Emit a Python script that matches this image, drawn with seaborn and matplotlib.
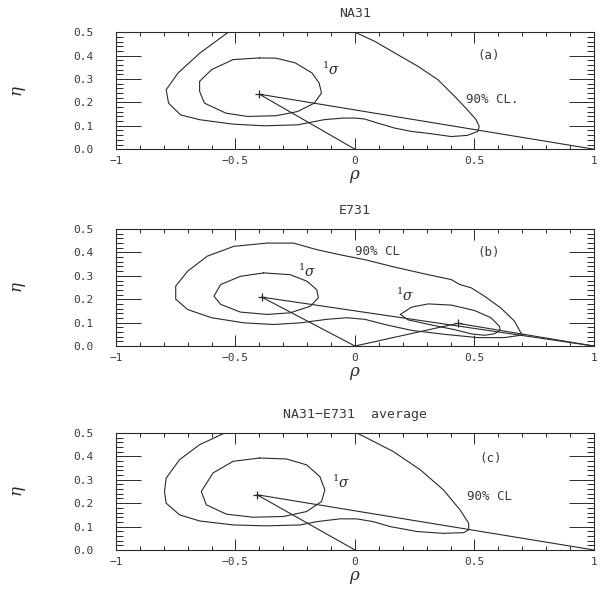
import seaborn as sns
import matplotlib
matplotlib.use("Agg")
import matplotlib.pyplot as plt
from matplotlib.ticker import MultipleLocator, FixedLocator

sns.set_style("ticks")
plt.rcParams['font.family'] = ['DejaVu Sans Mono', 'DejaVu Sans']
plt.rcParams['mathtext.fontset'] = 'dejavuserif'

# ---- data (rho, eta) ----
# (a) NA31
na31_apex = (-0.40, 0.235)
na31_cl90_x = [-0.53, -0.65, -0.74, -0.79, -0.78, -0.73, -0.65, -0.51, -0.38, -0.24, -0.13, -0.05, 0.0,
               0.04, 0.097, 0.167, 0.236, 0.32, 0.403, 0.47, 0.514, 0.52, 0.507, 0.47, 0.417, 0.347,
               0.264, 0.167, 0.083, 0.0]
na31_cl90_y = [0.5, 0.41, 0.326, 0.254, 0.197, 0.147, 0.126, 0.107, 0.10, 0.104, 0.126, 0.133, 0.133,
               0.129, 0.111, 0.09, 0.076, 0.066, 0.054, 0.059, 0.076, 0.097, 0.126, 0.169, 0.226, 0.297,
               0.354, 0.411, 0.461, 0.5]
na31_sig1_x = [-0.40, -0.51, -0.60, -0.65, -0.65, -0.63, -0.54, -0.45, -0.33, -0.24, -0.17, -0.14,
               -0.15, -0.18, -0.25, -0.33, -0.40]
na31_sig1_y = [0.39, 0.383, 0.34, 0.29, 0.247, 0.197, 0.154, 0.14, 0.143, 0.161, 0.197, 0.24,
               0.283, 0.326, 0.369, 0.389, 0.39]

# (b) E731
e731_apex = (-0.39, 0.209)
e731_apex2 = (0.43, 0.097)
e731_cl90_x = [0.70, 0.694, 0.667, 0.61, 0.542, 0.486, 0.438, 0.403, 0.306, 0.167, 0.042, -0.062,
               -0.16, -0.257, -0.368, -0.507, -0.618, -0.70, -0.75, -0.75, -0.70, -0.60, -0.465,
               -0.34, -0.229, -0.119, -0.035, 0.042, 0.125, 0.236, 0.375, 0.514, 0.625, 0.70]
e731_cl90_y = [0.047, 0.057, 0.107, 0.163, 0.213, 0.249, 0.263, 0.284, 0.305, 0.337, 0.369, 0.39,
               0.412, 0.44, 0.44, 0.426, 0.384, 0.32, 0.256, 0.20, 0.156, 0.121, 0.099,
               0.092, 0.099, 0.114, 0.121, 0.114, 0.092, 0.067, 0.05, 0.036, 0.036, 0.047]
e731_sig1_x = [-0.382, -0.479, -0.562, -0.59, -0.562, -0.479, -0.368, -0.271, -0.187, -0.153,
               -0.16, -0.201, -0.271, -0.382]
e731_sig1_y = [0.3125, 0.298, 0.263, 0.213, 0.178, 0.145, 0.135, 0.142, 0.17, 0.206,
               0.241, 0.277, 0.305, 0.3125]
e731_sig1b_x = [0.19, 0.236, 0.306, 0.403, 0.50, 0.569, 0.604, 0.608, 0.583, 0.542, 0.486,
                0.417, 0.32, 0.222, 0.19]
e731_sig1b_y = [0.135, 0.166, 0.18, 0.175, 0.152, 0.121, 0.085, 0.067, 0.052, 0.046, 0.052,
                0.07, 0.09, 0.112, 0.135]

# (c) NA31-E731 average
avg_apex = (-0.41, 0.236)
avg_cl90_x = [-0.545, -0.65, -0.734, -0.79, -0.797, -0.79, -0.734, -0.65, -0.51, -0.37, -0.23,
              -0.16, -0.063, 0.007, 0.077, 0.147, 0.259, 0.37, 0.455, 0.476, 0.476, 0.44, 0.37,
              0.273, 0.16, 0.049, 0.007]
avg_cl90_y = [0.5, 0.45, 0.386, 0.307, 0.25, 0.20, 0.15, 0.124, 0.107, 0.103, 0.107,
              0.121, 0.133, 0.133, 0.121, 0.10, 0.079, 0.071, 0.074, 0.086, 0.114, 0.171, 0.257,
              0.343, 0.421, 0.479, 0.5]
avg_sig1_x = [-0.40, -0.51, -0.594, -0.643, -0.622, -0.538, -0.427, -0.30, -0.203, -0.14,
              -0.126, -0.147, -0.203, -0.287, -0.40]
avg_sig1_y = [0.393, 0.379, 0.329, 0.25, 0.193, 0.153, 0.14, 0.143, 0.164, 0.207,
              0.257, 0.314, 0.364, 0.389, 0.393]

titles = ["NA31", "E731", "NA31\u2212E731  average"]
tags = ["(a)", "(b)", "(c)"]
x_ticks = [-1, -0.5, 0, 0.5, 1]
x_ticklabels = ["\u22121", "\u22120.5", "0", "0.5", "1"]
y_ticks = [0.0, 0.1, 0.2, 0.3, 0.4, 0.5]
y_ticklabels = ["0.0", "0.1", "0.2", "0.3", "0.4", "0.5"]

ink = "#2a2a2a"
txt = "#3a3a3a"
lw = 0.8

fig = plt.figure(figsize=(6.05, 5.92), dpi=100)
bottoms = [0.748, 0.4155, 0.071]
axes = [fig.add_axes([0.1917, b, 0.790, 0.1976]) for b in bottoms]


def curve(ax, xs, ys, **kw):
    sns.lineplot(x=xs, y=ys, sort=False, estimator=None, ax=ax, color=ink, lw=lw, **kw)


def triangle(ax, apex):
    curve(ax, [0, apex[0], 1], [0, apex[1], 0])
    sns.scatterplot(x=[apex[0]], y=[apex[1]], marker="+", s=40, color=ink, linewidth=0.9, ax=ax)


for ax, title in zip(axes, titles):
    ax.set_xlim(-1, 1)
    ax.set_ylim(0, 0.5)
    ax.xaxis.set_major_locator(FixedLocator(x_ticks))
    ax.set_xticklabels(x_ticklabels)
    ax.xaxis.set_minor_locator(MultipleLocator(0.1))
    ax.yaxis.set_major_locator(FixedLocator(y_ticks))
    ax.set_yticklabels(y_ticklabels)
    ax.yaxis.set_minor_locator(MultipleLocator(0.02))
    ax.tick_params(which="both", direction="in", top=True, right=True, colors=ink,
                   labelcolor=txt, labelsize=8, width=0.7)
    ax.tick_params(axis="x", which="major", length=8, pad=5)
    ax.tick_params(axis="x", which="minor", length=3)
    ax.tick_params(axis="y", which="major", length=18, pad=16)
    ax.tick_params(axis="y", which="minor", length=5)
    for s in ax.spines.values():
        s.set_linewidth(0.8)
        s.set_color(ink)
    ax.set_title(title, fontsize=9.5, color=txt, pad=11)
    ax.set_xlabel(r"$\rho$", fontsize=12, color=ink, va="center")
    ax.set_ylabel(r"$\eta$", fontsize=12, color=ink, rotation=90, va="center")
    ax.xaxis.set_label_coords(0.5, -0.23)
    ax.yaxis.set_label_coords(-0.203, 0.5)

# (a)
ax = axes[0]
curve(ax, na31_cl90_x, na31_cl90_y)
curve(ax, na31_sig1_x, na31_sig1_y)
triangle(ax, na31_apex)
ax.text(-0.10, 0.34, r"${}^{1}\sigma$", fontsize=10, color=ink, ha="center", va="center")
ax.text(0.56, 0.40, tags[0], fontsize=9, color=txt, ha="center", va="center")
ax.text(0.465, 0.214, "90% CL.", fontsize=9, color=txt, ha="left", va="center")

# (b)
ax = axes[1]
curve(ax, e731_cl90_x, e731_cl90_y)
curve(ax, e731_sig1_x, e731_sig1_y)
curve(ax, e731_sig1b_x, e731_sig1b_y)
triangle(ax, e731_apex)
triangle(ax, e731_apex2)
ax.text(-0.20, 0.32, r"${}^{1}\sigma$", fontsize=10, color=ink, ha="center", va="center")
ax.text(0.21, 0.217, r"${}^{1}\sigma$", fontsize=10, color=ink, ha="center", va="center")
ax.text(0.0, 0.405, "90% CL", fontsize=9, color=txt, ha="left", va="center")
ax.text(0.56, 0.40, tags[1], fontsize=9, color=txt, ha="center", va="center")

# (c)
ax = axes[2]
curve(ax, avg_cl90_x, avg_cl90_y)
curve(ax, avg_sig1_x, avg_sig1_y)
triangle(ax, avg_apex)
ax.text(-0.056, 0.289, r"${}^{1}\sigma$", fontsize=10, color=ink, ha="center", va="center")
ax.text(0.566, 0.393, tags[2], fontsize=9, color=txt, ha="center", va="center")
ax.text(0.47, 0.229, "90% CL", fontsize=9, color=txt, ha="left", va="center")

fig.savefig("out.png", dpi=100)
